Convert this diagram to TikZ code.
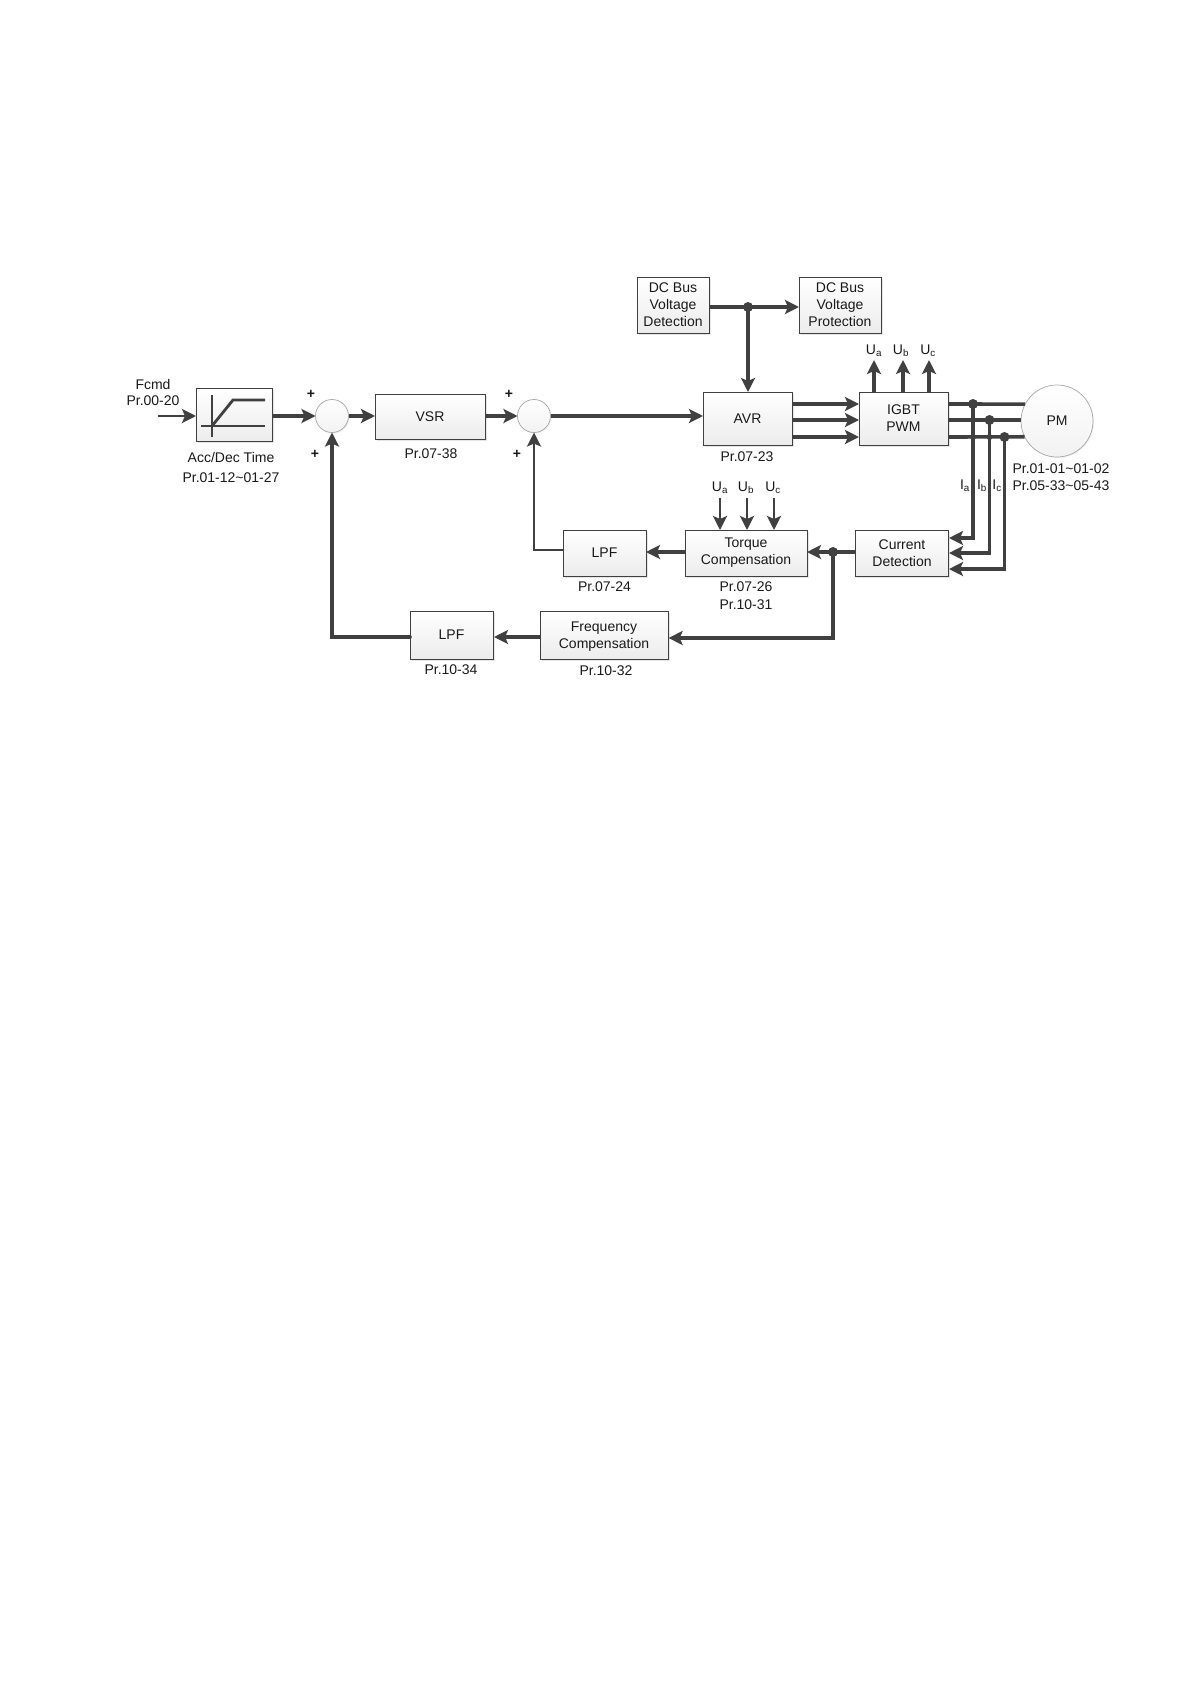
\documentclass[tikz,border=0pt]{standalone}
\usepackage{fontspec}
\setmainfont{Liberation Sans}
\usetikzlibrary{arrows.meta,shadows}
\definecolor{linegray}{HTML}{404040}
\definecolor{boxgray}{HTML}{ECECEC}
\tikzset{
  block/.style={rectangle,draw=linegray,line width=.9pt,top color=white,bottom color=boxgray,
    drop shadow={opacity=.2,shadow xshift=1.5pt,shadow yshift=-1.5pt},align=center},
  sumc/.style={circle,draw=gray!70,line width=.7pt,top color=white,bottom color=boxgray!70,minimum size=33pt,
    drop shadow={opacity=.12,shadow xshift=1pt,shadow yshift=-1pt}},
  dot/.style={circle,fill=linegray,minimum size=10pt},
  tinydot/.style={circle,fill=linegray,minimum size=6pt},
  txt/.style={align=center},
  plus/.style={font=\fontsize{14}{17}\bfseries\selectfont},
  wire/.style={draw=linegray,line width=3.6pt},
  thinwire/.style={draw=linegray,line width=2.8pt},
  arr/.style={-{Stealth[length=14pt,width=14pt,inset=3pt]}}
}
\begin{document}
\begin{tikzpicture}
  [x=1pt,y=-1pt,every node/.style={font=\fontsize{14}{17}\selectfont,inner sep=0pt,outer sep=0pt,text=black!90}]
  \useasboundingbox (0,0) rectangle (1190,1684);

  % blocks
  \node[block,minimum width=76pt,minimum height=53pt] (ramp) at (234,414.5) {};
  \node[sumc] (sum1) at (332,416) {};
  \node[block,minimum width=110pt,minimum height=45pt] (vsr) at (430,416.5) {VSR};
  \node[sumc] (sum2) at (534,416) {};
  \node[block,minimum width=89pt,minimum height=53pt] (avr) at (747.5,418.5) {AVR};
  \node[block,minimum width=89pt,minimum height=53pt] (igbt) at (903.5,418.5) {IGBT\\PWM};
  \node[sumc,minimum size=72pt] (pm) at (1057,421) {PM};
  \node[block,minimum width=72pt,minimum height=56pt] (dcdet) at (673,305) {DC Bus\\Voltage\\Detection};
  \node[block,minimum width=82pt,minimum height=56pt] (dcprot) at (840,305) {DC Bus\\Voltage\\Protection};
  \node[block,minimum width=83pt,minimum height=46pt] (lpfa) at (604.5,553) {LPF};
  \node[block,minimum width=122pt,minimum height=46pt] (tcomp) at (746,553) {Torque\\Compensation};
  \node[block,minimum width=93pt,minimum height=46pt] (curdet) at (902,553) {Current\\Detection};
  \node[block,minimum width=128pt,minimum height=48pt] (fcomp) at (604,635) {\rule{0pt}{13pt}Frequency\\Compensation};
  \node[block,minimum width=83pt,minimum height=48pt] (lpfb) at (451.5,635) {LPF};

  % ramp icon
  \draw[thinwire,line width=2pt] (212,395) -- (212,437);
  \draw[thinwire] (201,426) -- (265,426);
  \draw[thinwire] (212,426) -- (233,400) -- (265,400);

  % junctions
  \node[dot] (jdc) at (748,307) {};
  \node[dot] (ja) at (973,404) {};
  \node[dot] (jb) at (989.5,420) {};
  \node[dot] (jc) at (1004.5,437) {};
  \node[tinydot] (xab) at (973,420) {};
  \node[tinydot] (xac) at (973,437) {};
  \node[tinydot] (xbc) at (989.5,437) {};
  \node[dot] (jcur) at (833,552) {};

  % free ends
  \coordinate (fin) at (158,416);
  \coordinate (ua) at (874,360);
  \coordinate (ub) at (903,360);
  \coordinate (uc) at (929,360);
  \coordinate (ta) at (720,498);
  \coordinate (tb) at (747,498);
  \coordinate (tc) at (774,498);
  \coordinate (ci) at (949,538);
  \coordinate (cj) at (949,553);
  \coordinate (ck) at (949,569);
  \coordinate (fy) at (668.6,638);
  \coordinate (by) at (494,637);

  % forward path
  \draw[thinwire,arr] (fin) -- (ramp.west |- fin);
  \foreach \from/\to in {ramp/sum1,sum1/vsr,vsr/sum2}
    \draw[wire,arr] (\from.east |- sum1) -- (\to.west |- sum1);
  \draw[wire,arr] (sum2.east) -- (avr.west |- sum2);
  \draw[wire] (dcdet.east |- jdc) -- (jdc.center);
  \draw[wire,arr] (jdc.center) -- (dcprot.west |- jdc);
  \draw[wire,arr] (jdc.center) -- (jdc |- avr.north);

  % three phases
  \foreach \ph in {ja,xab,xac}
    \draw[wire,arr] (avr.east |- \ph) -- (igbt.west |- \ph);
  \draw[wire] (igbt.east |- ja) -- (pm.152);
  \draw[wire] (igbt.east |- jb) -- (pm.west |- jb);
  \draw[wire] (igbt.east |- jc) -- (pm.206);
  \foreach \up in {ua,ub,uc}
    \draw[wire,arr] (\up |- igbt.north) -- (\up);
  \foreach \dn in {ta,tb,tc}
    \draw[thinwire,arr] (\dn) -- (\dn |- tcomp.north);

  % current feedback
  \draw[wire,arr] (ja.center) |- (ci);
  \draw[wire,arr] (jb.center) |- (cj);
  \draw[wire,arr] (jc.center) |- (ck);
  \draw[wire] (curdet.west |- jcur) -- (jcur.center);
  \draw[wire,arr] (jcur.center) -- (tcomp.east |- jcur);
  \draw[wire,arr] (jcur.center) |- (fy);
  \draw[wire,arr] (tcomp.west |- jcur) -- (lpfa.east |- jcur);
  \draw[thinwire,arr,line cap=round] (lpfa.west |- 0,550) -| (sum2.south);
  \draw[wire,arr] (fcomp.west |- by) -- (by);
  \draw[wire,arr,line cap=round] (lpfb.west |- by) -| (sum1.south);

  % labels
  \node[txt] (lfcmd) at (153,392) {Fcmd\\[-1pt]Pr.00-20};
  \node[txt] (lramp) at (231,467) {Acc/Dec Time\\[3pt]Pr.01-12\textasciitilde 01-27};
  \node (lvsr) at (431,454) {Pr.07-38};
  \node (lavr) at (747,457) {Pr.07-23};
  \node[txt] (lpm) at (1061,477.5) {Pr.01-01\textasciitilde 01-02\\Pr.05-33\textasciitilde 05-43};
  \node (llpfa) at (604.5,587) {Pr.07-24};
  \node[txt] (ltcomp) at (746,596) {Pr.07-26\\[1pt]Pr.10-31};
  \node (lfcomp) at (606,671) {Pr.10-32};
  \node (llpfb) at (451,670) {Pr.10-34};

  \node[plus] (p1) at (311,394) {+};
  \node[plus] (p2) at (315,454) {+};
  \node[plus] (p3) at (509,394) {+};
  \node[plus] (p4) at (517,454) {+};

  % phase names
  \foreach \nm/\x/\y/\t in {a1/874/351/U\textsubscript{a},b1/901/351/U\textsubscript{b},c1/928/351/U\textsubscript{c},
    a2/720/488/U\textsubscript{a},b2/746/488/U\textsubscript{b},c2/773/488/U\textsubscript{c},
    a3/965/486/I\textsubscript{a},b3/982/486/I\textsubscript{b},c3/997/486/I\textsubscript{c}}
    \node (n\nm) at (\x,\y) {\t};
\end{tikzpicture}
\end{document}
